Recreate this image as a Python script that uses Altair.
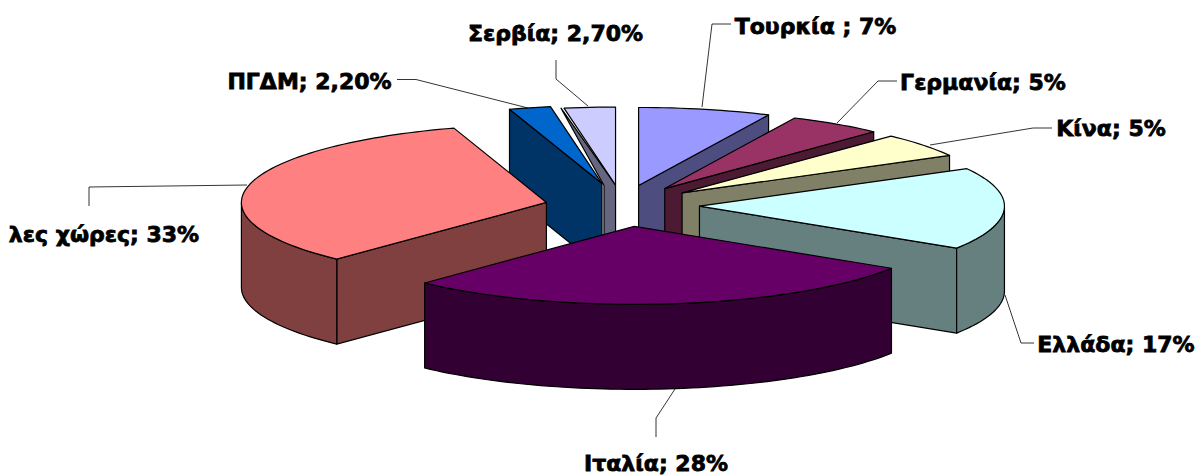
import math
import altair as alt

# Chart values
categories = ["Τουρκία", "Γερμανία", "Κίνα", "Ελλάδα", "Ιταλία", "Άλλες χώρες", "ΠΓΔΜ", "Σερβία"]
shares = [7, 5, 5, 17, 28, 33, 2.2, 2.7]
labels = ["Τουρκία ; 7%", "Γερμανία; 5%", "Κίνα; 5%", "Ελλάδα; 17%", "Ιταλία; 28%", "λες χώρες; 33%", "ΠΓΔΜ; 2,20%", "Σερβία; 2,70%"]
top_colors = ["#9999FF", "#993366", "#FFFFCC", "#CCFFFF", "#660066", "#FF8080", "#0066CC", "#CCCCFF"]
side_colors = ["#4D4D80", "#4D1A33", "#808066", "#668080", "#330033", "#804040", "#003366", "#666680"]
paint_order = ["Τουρκία", "Γερμανία", "Κίνα", "Ελλάδα", "Σερβία", "ΠΓΔΜ", "Άλλες χώρες", "Ιταλία"]

# Pie geometry (pixels relative to the chart origin at the 8px page margin)
CX, CY = 622 - 8, 205.5 - 8
RX, RY = 305, 78
EXPLODE_X, EXPLODE_Y = 76, 20.5
DEPTH = 85
# Small per-slice offsets: the reference's camera is not quite parallel
nudges = {"Ελλάδα": (1.5, 0), "Ιταλία": (3, 0.5), "Άλλες χώρες": (-1.5, 1.5), "ΠΓΔΜ": (-2, -2)}
total = sum(shares)


def pt(apex, deg):
    a = math.radians(deg)
    return (apex[0] + RX * math.sin(a), apex[1] - RY * math.cos(a))


def poly(points, fill):
    ring = [list(p) for p in points] + [list(points[0])]
    return {"type": "Feature", "properties": {"fill": fill},
            "geometry": {"type": "Polygon", "coordinates": [ring]}}


def down(p):
    return (p[0], p[1] + DEPTH)


def arc(apex, a, b):
    n = max(2, int(abs(b - a) / 1.5))
    return [pt(apex, a + (b - a) * i / n) for i in range(n + 1)]


faces = {}
apexes = {}
angles = {}
start = 0.0
for name, share in zip(categories, shares):
    sweep = 360 * share / total
    a, b = start, start + sweep
    start = b
    mid = math.radians((a + b) / 2)
    dx, dy = nudges.get(name, (0, 0))
    apexes[name] = (CX + EXPLODE_X * math.sin(mid) + dx, CY - EXPLODE_Y * math.cos(mid) + dy)
    angles[name] = (a, b)

for name, top, side in zip(categories, top_colors, side_colors):
    a, b = angles[name]
    apex = apexes[name]
    fs = []
    if name == "Σερβία":
        # Only the sliver next to the neighbouring slice shows in the reference
        p = pt(apex, a)
        n = apexes["ΠΓΔΜ"]
        fs.append(poly([(p[0] - 3, p[1]), apex, down(apex), (n[0] + 2, apex[1] + DEPTH), (n[0] + 2, n[1] + 2)], side))
    elif math.sin(math.radians(a)) < -1e-9:
        p = pt(apex, a)
        fs.append(poly([apex, p, down(p), down(apex)], side))
    if math.sin(math.radians(b)) > 1e-9:
        p = pt(apex, b)
        fs.append(poly([apex, p, down(p), down(apex)], side))
    lo, hi = max(a, 90), min(b, 270)
    if hi > lo:
        rim = arc(apex, lo, hi)
        fs.append(poly(rim + [down(q) for q in reversed(rim)], side))
    fs.append(poly([apex] + arc(apex, a, b), top))
    faces[name] = fs

features = [f for name in paint_order for f in faces[name]]

proj = dict(type="identity", scale=1, translate=[0, 0])

pie = alt.Chart(alt.Data(values=features)).mark_geoshape(
    stroke="#000000", strokeWidth=1.2, strokeJoin="round"
).encode(fill=alt.Fill("properties.fill:N", scale=None)).project(**proj)

# Leader lines, in page pixels
leaders = [
    [(702, 107), (712, 24), (731, 24)],
    [(837, 123), (878, 81), (897, 81)],
    [(930, 145), (1033, 128), (1052, 128)],
    [(1005, 295), (1021, 343), (1034, 343)],
    [(675, 389), (656, 418), (656, 437)],
    [(247, 185), (89, 187), (89, 206)],
    [(397, 79.5), (416, 79.5), (528, 108)],
    [(556, 60), (556, 79), (588, 106)],
]
leader_features = [
    {"type": "Feature", "properties": {},
     "geometry": {"type": "LineString", "coordinates": [[x - 8, y - 8] for x, y in ln]}}
    for ln in leaders
]
lines = alt.Chart(alt.Data(values=leader_features)).mark_geoshape(
    filled=False, stroke="#000000", strokeWidth=0.8
).project(**proj)

# Label anchors (centre of each label), in page pixels
anchors = [(815.5, 26.5), (983, 82.5), (1111, 128.5), (1116, 344.5), (656, 463.5), (104, 234.5), (309.5, 81.5), (555.5, 34)]
text_rows = [{"label": t, "lon": x - 8, "lat": y - 8} for t, (x, y) in zip(labels, anchors)]
texts = alt.Chart(alt.Data(values=text_rows)).mark_text(
    font="DejaVu Sans", fontWeight="bold", fontSize=22, color="#000000",
    stroke="#000000", strokeWidth=0.8, align="center", baseline="middle"
).encode(longitude="lon:Q", latitude="lat:Q", text="label:N").project(**proj)

chart = alt.layer(lines, pie, texts).properties(
    width=1188, height=468, padding=0, autosize=alt.AutoSizeParams(type="none"),
    background="#FFFFFF"
).configure_view(stroke=None)

chart.save("out.html", embed_options={"renderer": "svg", "actions": False})
